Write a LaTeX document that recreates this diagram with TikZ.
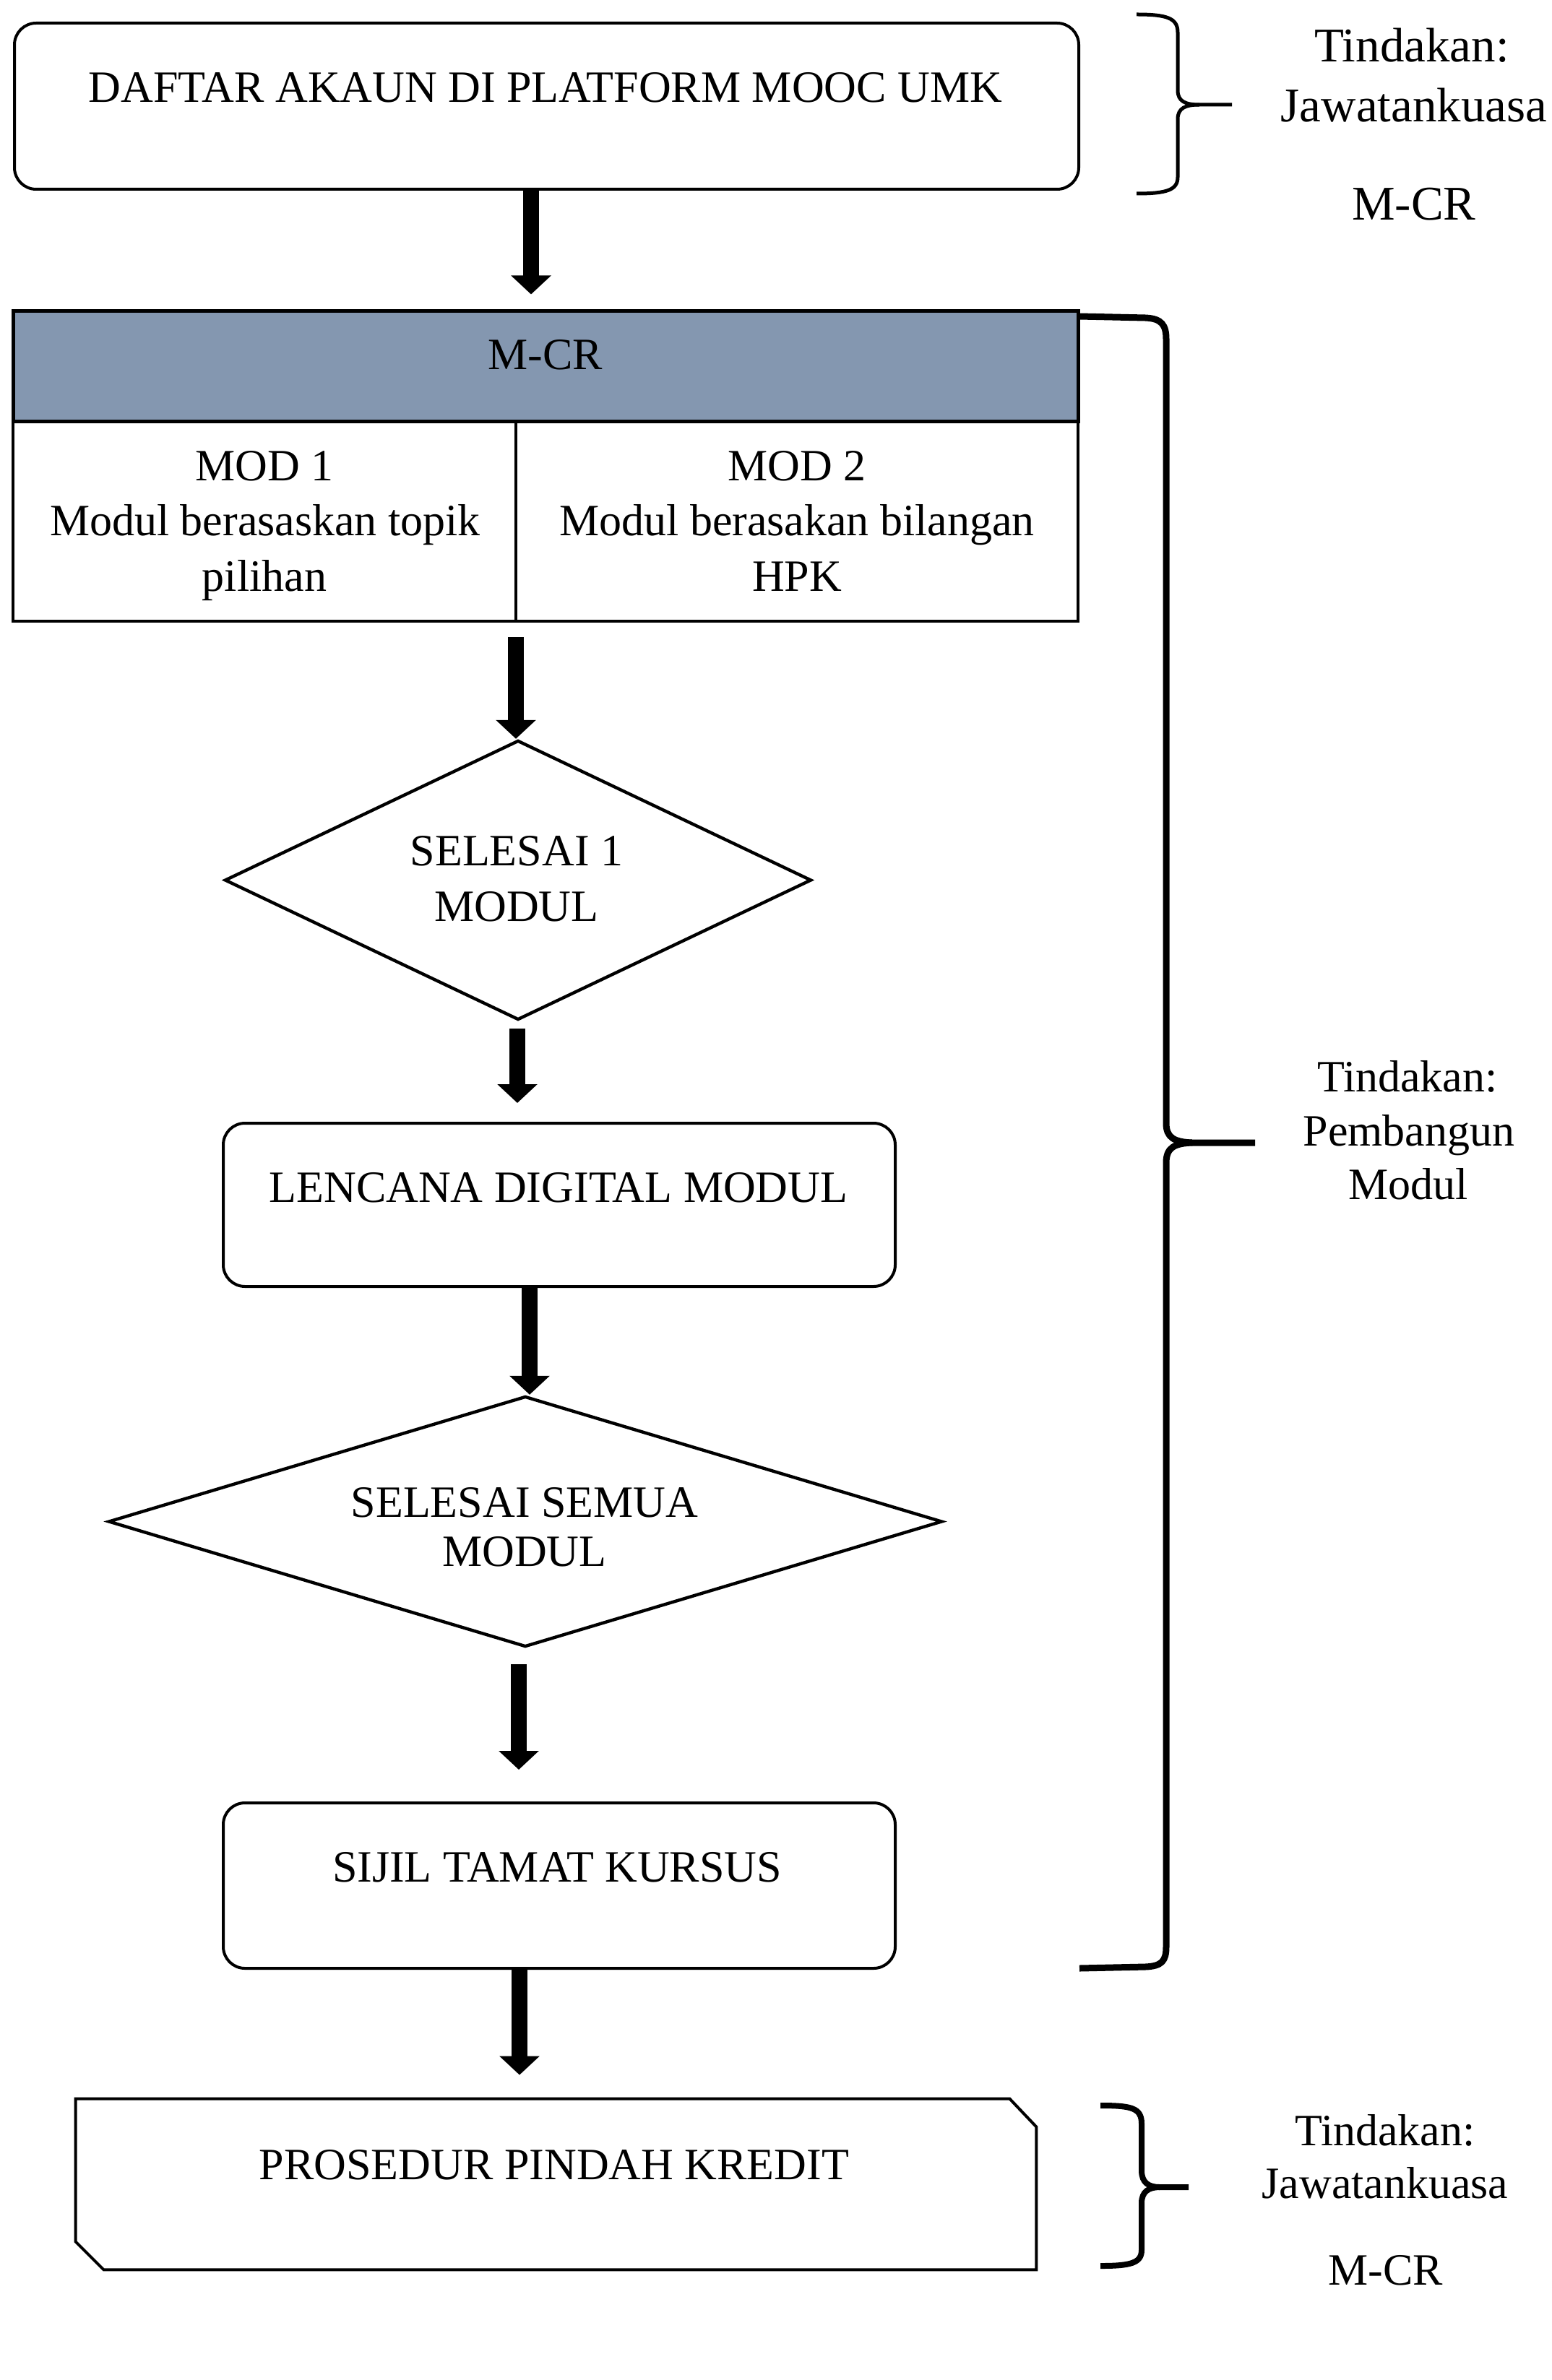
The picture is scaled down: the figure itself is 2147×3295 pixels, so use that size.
\documentclass[tikz,border=0pt]{standalone}
\usepackage{fontspec}
\setmainfont{Liberation Serif}
\usetikzlibrary{arrows.meta,shapes.geometric}
\definecolor{hdrfill}{RGB}{132,151,176}
\begin{document}
\begin{tikzpicture}[x=0.5pt,y=-0.5pt,
  txt/.style={anchor=base,inner sep=0pt,font=\fontsize{31pt}{38pt}\selectfont},
  rtxt/.style={anchor=base,inner sep=0pt,font=\fontsize{33.5pt}{40pt}\selectfont},
  rbox/.style={draw=black,line width=2pt,rounded corners=15pt,rectangle,inner sep=0pt},
  sbox/.style={draw=black,line width=2pt,rectangle,inner sep=0pt},
  dia/.style={draw=black,line width=2.2pt,diamond,inner sep=0pt},
  arr/.style={line width=11pt,-{Triangle[width=27pt,length=13pt]}},
  brace/.style={line cap=butt,line join=round},
]
\fill[white] (0,0) rectangle (2147,3295);
\useasboundingbox (0,0) rectangle (2147,3295);

% top box
\node[rbox, minimum width=736.5pt, minimum height=115pt] (daftar) at (756.5,147) {};
\node[txt] (daftarT) at (755,142) {DAFTAR AKAUN DI PLATFORM MOOC UMK};

% header and cells
\node[sbox, fill=hdrfill, line width=2.5pt, minimum width=737pt, minimum height=76.5pt] (hdr) at (755,507.5) {};
\node[txt] (hdrT) at (755,512) {M-CR};
\node[sbox, minimum width=348pt, minimum height=138pt] (cellA) at (366,722) {};
\node[sbox, minimum width=389pt, minimum height=138pt] (cellB) at (1103,722) {};
\node[txt] (a1) at (366,665) {MOD 1};
\node[txt] (a2) at (367,741) {Modul berasaskan topik};
\node[txt] (a3) at (366,818) {pilihan};
\node[txt] (b1) at (1103,665) {MOD 2};
\node[txt] (b2) at (1103,741) {Modul berasakan bilangan};
\node[txt] (b3) at (1103,818) {HPK};

% diamond 1
\node[dia, minimum width=406pt, minimum height=193.5pt] (sel1) at (717,1218.5) {};
\node[txt] (sel1a) at (715,1198) {SELESAI 1};
\node[txt] (sel1b) at (715,1275) {MODUL};

% lencana
\node[rbox, minimum width=465pt, minimum height=113pt] (lenc) at (774,1668) {};
\node[txt] (lencT) at (773,1664) {LENCANA DIGITAL MODUL};

% diamond 2
\node[dia, minimum width=577pt, minimum height=173.5pt] (sel2) at (727,2106.5) {};
\node[txt] (sel2a) at (726,2100) {SELESAI SEMUA};
\node[txt] (sel2b) at (726,2168) {MODUL};

% sijil
\node[rbox, minimum width=465pt, minimum height=114.5pt] (sijil) at (774,2610.5) {};
\node[txt] (sijilT) at (771,2605) {SIJIL TAMAT KURSUS};

% prosedur
\node[rectangle, inner sep=0pt, minimum width=664.5pt, minimum height=118pt] (pros) at (769.5,3024) {};
\draw[line width=2pt, line join=miter] (pros.north west) -- ([xshift=-18.5pt]pros.north east) -- ([yshift=-19.5pt]pros.north east) -- (pros.south east) -- ([xshift=19.5pt]pros.south west) -- ([yshift=19.5pt]pros.south west) -- cycle;
\node[txt] (prosT) at (767,3017) {PROSEDUR PINDAH KREDIT};

% arrows
\draw[arr, shorten >=10.5pt] (735,0 |- daftar.south) -- (735,0 |- hdr.north);
\draw[arr, shorten <=10pt] (714,0 |- cellA.south) -- (714,0 |- sel1.north);
\draw[arr, shorten <=5pt, shorten >=13pt] (716,0 |- sel1.south) -- (716,0 |- lenc.north);
\draw[arr] (733,0 |- lenc.south) -- (733,0 |- sel2.north);
\draw[arr, shorten <=11pt, shorten >=22pt] (718,0 |- sel2.south) -- (718,0 |- sijil.north);
\draw[arr, shorten >=16.5pt] (719,0 |- sijil.south) -- (719,0 |- pros.north);

% braces
\draw[brace, line width=2.5pt] (1573,20) .. controls (1615,20) and (1630,25) .. (1630,45) -- (1630,125) .. controls (1630,140) and (1640,145) .. (1660,145) -- (1705,145);
\draw[brace, line width=2.5pt] (1660,145) .. controls (1640,145) and (1630,150) .. (1630,165) -- (1630,245) .. controls (1630,263) and (1615,268) .. (1573,268);

\draw[brace, line width=4.5pt] (1494,438) -- (1585,440) .. controls (1608,441) and (1614,450) .. (1614,470) -- (1614,1555) .. controls (1614,1575) and (1625,1581) .. (1650,1582) -- (1737,1582);
\draw[brace, line width=4.5pt] (1650,1582) .. controls (1625,1583) and (1614,1589) .. (1614,1610) -- (1614,2695) .. controls (1614,2715) and (1608,2722) .. (1585,2723) -- (1494,2725);

\draw[brace, line width=4pt] (1523,2915) .. controls (1565,2915) and (1580,2918) .. (1580,2940) -- (1580,3005) .. controls (1580,3022) and (1590,3028) .. (1605,3028) -- (1645,3028);
\draw[brace, line width=4pt] (1605,3028) .. controls (1590,3028) and (1580,3034) .. (1580,3050) -- (1580,3115) .. controls (1580,3133) and (1565,3137) .. (1523,3137);

% right labels
\node[rtxt] (t1a) at (1954,86) {Tindakan:};
\node[rtxt] (t1b) at (1957,169) {Jawatankuasa};
\node[rtxt] (t1c) at (1957,305) {M-CR};
\node[txt] (t2a) at (1948,1511) {Tindakan:};
\node[txt] (t2b) at (1950,1586) {Pembangun};
\node[txt] (t2c) at (1949,1660) {Modul};
\node[txt] (t3a) at (1917,2970) {Tindakan:};
\node[txt] (t3b) at (1917,3043) {Jawatankuasa};
\node[txt] (t3c) at (1918,3163) {M-CR};
\end{tikzpicture}
\end{document}
